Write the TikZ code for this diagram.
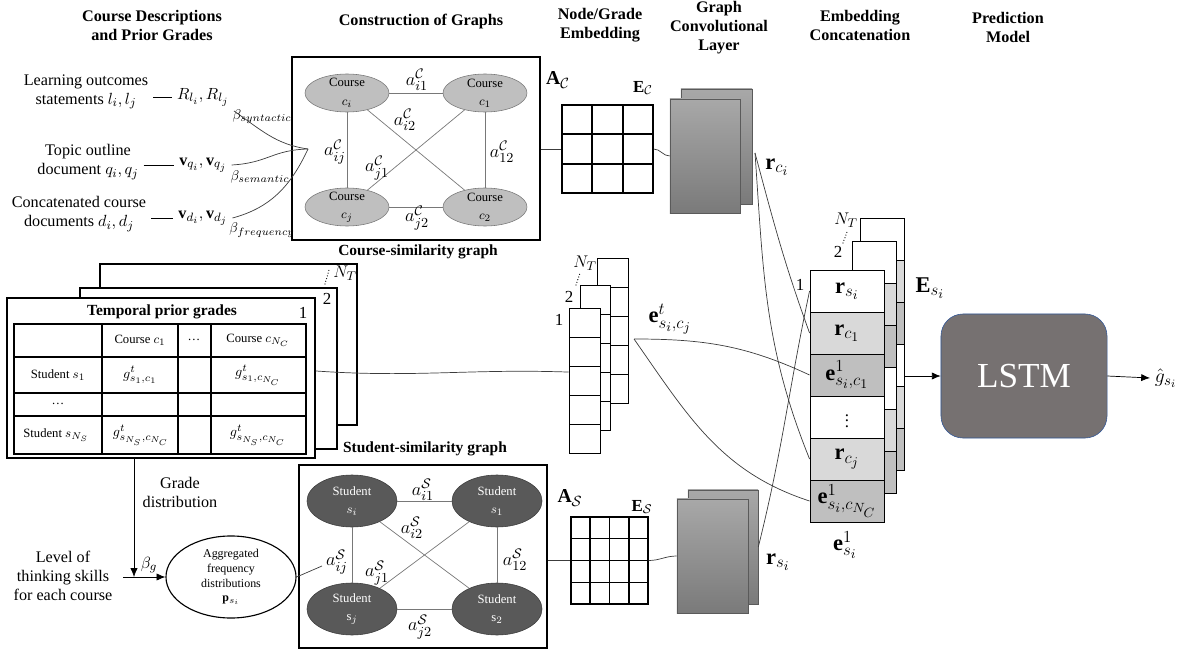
\RequirePackage{fix-cm}
\documentclass[tikz,border=0pt]{standalone}
\usepackage{amsmath, amssymb}
\usepackage{fontspec}
\setmainfont{Liberation Serif}
\usetikzlibrary{arrows.meta, shapes.geometric, positioning, calc}

\DeclareMathSizes{8.5}{8.5}{6.5}{5}
\DeclareMathSizes{9}{9}{7}{5.5}
\DeclareMathSizes{10}{10}{7.5}{6}
\DeclareMathSizes{11.5}{11.5}{8.6}{6.8}
\DeclareMathSizes{12}{12}{9}{7}
\DeclareMathSizes{13}{13}{9.8}{7.5}
\DeclareMathSizes{14}{14}{10.5}{8}
\DeclareMathSizes{16}{16}{12}{9.5}

\definecolor{CourseGray}{RGB}{191,191,191}
\definecolor{CourseEdge}{RGB}{120,120,120}
\definecolor{StudentGray}{RGB}{89,89,89}
\definecolor{StudentEdge}{RGB}{60,60,60}
\definecolor{CellLight}{RGB}{217,217,217}
\definecolor{CellMid}{RGB}{191,191,191}
\definecolor{GcnTop}{RGB}{168,168,168}
\definecolor{GcnBottom}{RGB}{122,122,122}
\definecolor{GcnEdge}{RGB}{90,90,90}
\definecolor{LstmFill}{RGB}{118,113,113}
\definecolor{LstmEdge}{RGB}{47,85,151}
\definecolor{LinkGray}{RGB}{60,60,60}

\tikzset{
	hdr/.style={font=\fontsize{11.5}{13.5}\selectfont\bfseries, align=center},
	gcap/.style={font=\fontsize{11}{13}\selectfont\bfseries},
	txt/.style={font=\fontsize{11.5}{13.5}\selectfont, align=center},
	mth/.style={font=\fontsize{11.5}{13}\selectfont},
	bet/.style={font=\fontsize{10}{12}\selectfont, inner sep=1pt},
	vec/.style={font=\fontsize{16}{18}\selectfont, inner sep=0pt},
	num/.style={font=\fontsize{12}{14}\selectfont, inner sep=0pt},
	course/.style={ellipse, fill=CourseGray, draw=CourseEdge, inner sep=0pt,
		minimum width=2.1cm, minimum height=0.95cm},
	student/.style={ellipse, fill=StudentGray, draw=StudentEdge, inner sep=0pt,
		minimum width=2.25cm, minimum height=1.3cm},
	inlbl/.style={font=\fontsize{9}{13}\selectfont, align=center, inner sep=0pt},
	gline/.style={draw=CourseEdge, line width=0.5pt},
	elbl/.style={font=\fontsize{13}{15}\selectfont, inner sep=0pt},
	gbox/.style={draw, line width=0.9pt, minimum width=6.2cm, minimum height=4.575cm},
	gridbox/.style={draw, line width=0.9pt},
	gcn/.style={draw=GcnEdge, top color=GcnTop, bottom color=GcnBottom},
	tcell/.style={font=\fontsize{9}{11}\selectfont, inner sep=0pt},
	tmath/.style={font=\fontsize{10}{12}\selectfont, inner sep=0pt},
	gecell/.style={draw, line width=0.6pt, fill=white, minimum width=0.775cm, minimum height=0.725cm},
	catcell/.style={draw, line width=0.6pt, minimum width=1.85cm, minimum height=1.05cm,
		inner sep=0pt, font=\fontsize{16}{18}\selectfont},
	link/.style={draw=LinkGray, line width=0.5pt},
	arr/.style={draw=black, line width=0.5pt, -{Latex[length=2.2mm, width=1.8mm]}},
	tdots/.style={dash pattern=on 0pt off 2pt, line cap=round, line width=0.9pt},
	lstm/.style={rounded corners=0.55cm, fill=LstmFill, draw=LstmEdge, text=white,
		font=\fontsize{25}{28}\selectfont, minimum width=4.15cm, minimum height=3.1cm}
}

\begin{document}
\begin{tikzpicture}[x=0.025cm, y=-0.025cm]
	\useasboundingbox (0,0) rectangle (1191,656);

	% titulos de las columnas
	\node[hdr] (h1) at (152,25) {Course Descriptions\\and Prior Grades};
	\node[hdr] (h2) at (421,22) {Construction of Graphs};
	\node[hdr] (h3) at (600,25) {Node/Grade\\Embedding};
	\node[hdr] (h4) at (719,28) {Graph\\Convolutional\\Layer};
	\node[hdr] (h5) at (860,25) {Embedding\\Concatenation};
	\node[hdr] (h6) at (1008,27) {Prediction\\Model};

	% descripciones de los cursos
	\node[txt] (lo) at (86,92) {Learning outcomes\\statements $l_i, l_j$};
	\node[mth] (rl) at (203,97) {$R_{l_i}, R_{l_j}$};
	\node[bet] (bsyn) at (262,117) {$\beta_{syntactic}$};
	\node[txt] (tq) at (88,162) {Topic outline\\document $q_i, q_j$};
	\node[mth] (vq) at (203,165) {$\mathbf{v}_{q_i}, \mathbf{v}_{q_j}$};
	\node[bet] (bsem) at (260,177) {$\beta_{semantic}$};
	\node[txt] (cd) at (79,214) {Concatenated course\\documents $d_i, d_j$};
	\node[mth] (vd) at (203,218) {$\mathbf{v}_{d_i}, \mathbf{v}_{d_j}$};
	\node[bet] (bfreq) at (262,230) {$\beta_{frequency}$};
	\draw (rl.west -| lo.east) -- (rl.west);
	\draw (vq.west -| tq.east) -- (vq.west);
	\draw (vd.west -| cd.east) -- (vd.west);

	% grafo de similitud de cursos
	\node[gbox] (cbox) at (416,148.5) {};
	\node[gcap] (ccap) at (418,252) {Course-similarity graph};
	\foreach \n/\x/\y/\s in {ci/347/93/c_i, c1/485/93/c_1, cj/347/207/c_j, c2/485/207/c_2}
		\node[course, label={[inlbl]center:{Course\\$\s$}}] (\n) at (\x,\y) {};
	\foreach \a/\b in {ci/c1, ci/cj, c1/c2, cj/c2, ci/c2, cj/c1}
		\draw[gline] (\a) -- (\b);
	\foreach \n/\x/\y in {i1/417/80, i2/405/120, ij/335/152, j1/377/168, 12/502/152, j2/417/218}
		\node[elbl] (ac\n) at (\x,\y) {$a^{\mathcal{C}}_{\n}$};
	\coordinate (conv) at (308,149);
	\draw[link] (rl.south east) to[out=-35, in=172] (conv);
	\draw[link] (vq.east) .. controls (268,163) and (272,150) .. (conv);
	\draw[link] (vd.east) to[out=15, in=-115] (conv);

	% matriz de adyacencia y capa convolucional (cursos)
	\node[font=\fontsize{14}{16}\selectfont] (acl) at (558,80) {$\mathbf{A}_{\mathcal{C}}$};
	\node[font=\fontsize{12}{14}\selectfont] (ecl) at (643,88) {$\mathbf{E}_{\mathcal{C}}$};
	\node[gridbox, minimum width=2.275cm, minimum height=2.2cm] (AC) at (607.5,149) {};
	\foreach \k in {1,2}{
		\draw[line width=0.9pt] ($(AC.north west)!\k/3!(AC.north east)$) -- ($(AC.south west)!\k/3!(AC.south east)$);
		\draw[line width=0.9pt] ($(AC.north west)!\k/3!(AC.south west)$) -- ($(AC.north east)!\k/3!(AC.south east)$);
	}
	\node[gcn, minimum width=1.775cm, minimum height=2.875cm] (gcnCb) at (716.5,146.5) {};
	\node[gcn, minimum width=1.75cm, minimum height=2.85cm] (gcnC) at (705,156) {};
	\draw[link] (AC.west -| cbox.east) -- (AC.west);
	\draw[link] (AC.east) to[out=0, in=180] (gcnC.west);
	\coordinate (rciout) at (755,153);
	\node[vec] (rcl) at (777,167) {$\mathbf{r}_{c_i}$};

	% notas previas temporales
	\draw[line width=0.8pt, fill=white] (100,264) rectangle (357,425);
	\draw[line width=0.8pt, fill=white] (80,288) rectangle (337,449);
	\node[draw, line width=0.8pt, fill=white, minimum width=7.7cm, minimum height=4cm] (tp1) at (161,378) {};
	\node[gcap] (tpt) at (162,312) {Temporal prior grades};
	\draw[line width=0.8pt] (14,324) rectangle (306,454);
	\foreach \xc in {102,178,211}
		\draw[line width=0.8pt] (\xc,324) -- (\xc,454);
	\foreach \yr in {357,393,416}
		\draw[line width=0.8pt] (14,\yr) -- (306,\yr);
	\node[tcell] (t01) at (140,340) {Course $c_1$};
	\node[tcell] (t02) at (194,340) {\ldots};
	\node[tcell] (t03) at (258,340) {Course $c_{N_C}$};
	\node[tcell] (t10) at (58,375) {Student $s_1$};
	\node[tmath] (t11) at (140,375) {$g^t_{s_1,c_1}$};
	\node[tmath] (t13) at (258,375) {$g^t_{s_1,c_{N_C}}$};
	\node[tcell] (t20) at (58,404) {\ldots};
	\node[tcell] (t30) at (56,435) {Student $s_{N_S}$};
	\node[tmath] (t31) at (141,435) {$g^t_{s_{N_S},c_{N_C}}$};
	\node[tmath] (t33) at (258,435) {$g^t_{s_{N_S},c_{N_C}}$};
	\node[num] (tn1) at (303,313) {1};
	\node[num] (tn2) at (327,299) {2};
	\node[num] (tnT) at (345,273) {$N_T$};
	\draw[tdots] (325,284) -- (329,270);

	% embedding de notas
	\foreach \k in {0,...,4}
		\draw[line width=0.6pt, fill=white] (597,258+29*\k) rectangle ++(31,29);
	\foreach \k in {0,...,4}
		\draw[line width=0.6pt, fill=white] (580,285+29*\k) rectangle ++(30,29);
	\foreach \k in {0,...,4}
		\node[gecell] (ge\k) at (584.5,322.5+29*\k) {};
	\node[num] (gn1) at (559,320) {1};
	\node[num] (gn2) at (569,297) {2};
	\node[num] (gnT) at (585,263) {$N_T$};
	\draw[tdots] (576,285) -- (580,273);
	\node[vec] (etl) at (670,319) {$\mathbf{e}^t_{s_i,c_j}$};
	\coordinate (etout) at (634,339);
	\draw[link] ([yshift=5pt]tp1.east) to[out=-4, in=178] ([yshift=6pt]ge2.west);

	% distribucion de notas
	\coordinate (gjoin) at (134,577);
	\coordinate (lvlin) at (123,577);
	\node[txt] (gdl) at (180,492) {Grade\\distribution};
	\node[txt] (lvl) at (63,576) {Level of\\thinking skills\\for each course};
	\node[mth] (bg) at (149,565) {$\beta_g$};
	\node[ellipse, draw, line width=0.8pt, inner sep=0pt, minimum width=3.25cm, minimum height=2.05cm,
		font=\fontsize{8.5}{10.5}\selectfont, align=center] (agg) at (231,577)
		{Aggregated\\frequency\\distributions\\$\mathbf{p}_{s_i}$};
	\draw[arr] (tp1.south -| gjoin) -- (gjoin);
	\draw[arr] (lvlin) -- (agg.west);

	% grafo de similitud de estudiantes
	\node[gbox] (sbox) at (423,556.5) {};
	\node[gcap] (scap) at (425,449) {Student-similarity graph};
	\foreach \n/\x/\y/\s in {si/352/501/s_i, s1/497/501/s_1, sj/352/609/\mathrm{s}_j, s2/497/609/\mathrm{s}_2}
		\node[student, label={[inlbl, text=white]center:{Student\\$\s$}}] (\n) at (\x,\y) {};
	\foreach \a/\b in {si/s1, si/sj, s1/s2, sj/s2, si/s2, sj/s1}
		\draw[gline] (\a) -- (\b);
	\foreach \n/\x/\y in {i1/423/490, i2/412/528, ij/337/562, j1/377/573, 12/515/560, j2/420/627}
		\node[elbl] (as\n) at (\x,\y) {$a^{\mathcal{S}}_{\n}$};
	\coordinate (sin) at (322,566);
	\draw[link] (agg.east) -- (sin);

	% matriz de adyacencia y capa convolucional (estudiantes)
	\node[font=\fontsize{14}{16}\selectfont] (asl) at (570,498) {$\mathbf{A}_{\mathcal{S}}$};
	\node[font=\fontsize{12}{14}\selectfont] (esl) at (642,507) {$\mathbf{E}_{\mathcal{S}}$};
	\node[gridbox, minimum width=1.925cm, minimum height=2.175cm] (AS) at (609.5,560.5) {};
	\foreach \k in {1,2,3}{
		\draw[line width=0.9pt] ($(AS.north west)!\k/4!(AS.north east)$) -- ($(AS.south west)!\k/4!(AS.south east)$);
		\draw[line width=0.9pt] ($(AS.north west)!\k/4!(AS.south west)$) -- ($(AS.north east)!\k/4!(AS.south east)$);
	}
	\node[gcn, minimum width=1.75cm, minimum height=2.85cm] (gcnSb) at (723,547) {};
	\node[gcn, minimum width=1.775cm, minimum height=2.85cm] (gcnS) at (712.5,556) {};
	\draw[link] (AS.west -| sbox.east) -- (AS.west);
	\draw[link] (AS.east) to[out=0, in=180] (gcnS.west);
	\node[vec] (rsl) at (778,562) {$\mathbf{r}_{s_i}$};

	% concatenacion de embeddings
	\foreach \xl/\yt in {860/218, 852/241}{
		\foreach \k/\fc in {0/white, 1/CellLight, 2/CellMid, 3/white, 4/CellLight, 5/CellMid}
			\draw[line width=0.6pt, fill=\fc] (\xl,\yt+42*\k) rectangle ++(44,42);
	}
	\foreach \k/\fc/\lab in {0/white/{$\mathbf{r}_{s_i}$}, 1/CellLight/{$\mathbf{r}_{c_1}$},
		2/CellMid/{$\mathbf{e}^1_{s_i,c_1}$}, 3/white/{\fontsize{12}{14}\selectfont$\vdots$}, 4/CellLight/{$\mathbf{r}_{c_j}$},
		5/CellMid/{$\mathbf{e}^1_{s_i,c_{N_C}}$}}
		\node[catcell, fill=\fc] (cat\k) at (847,291+42*\k) {\lab};
	\node[num] (cn1) at (800,285) {1};
	\node[num] (cn2) at (838,252) {2};
	\node[num] (cnT) at (846,220) {$N_T$};
	\draw[tdots] (843,243) -- (847,232);
	\node[vec] (esi) at (930,288) {$\mathbf{E}_{s_i}$};
	\node[vec] (e1l) at (845,545) {$\mathbf{e}^1_{s_i}$};

	% conexiones hacia la concatenacion
	\draw[link] (rciout) to[out=-75, in=110] (cat1.west);
	\draw[link] (rciout) to[out=-86, in=112] (cat4.west);
	\draw[link] (etout) to[out=0, in=155] (cat2.west);
	\draw[link] (etout) to[out=-55, in=162] (cat5.west);
	\draw[link] (gcnSb.east) to[out=76, in=-102] (cat0.west);

	% modelo de prediccion
	\node[lstm] (lstm) at (1024,376) {LSTM};
	\coordinate (catout) at (904,376);
	\node[font=\fontsize{14}{16}\selectfont, anchor=west] (ghat) at (1150,378) {$\hat{g}_{s_i}$};
	\draw[arr] (catout) -- (lstm.west);
	\draw[arr] (lstm.east) -- (ghat.west);
\end{tikzpicture}
\end{document}
